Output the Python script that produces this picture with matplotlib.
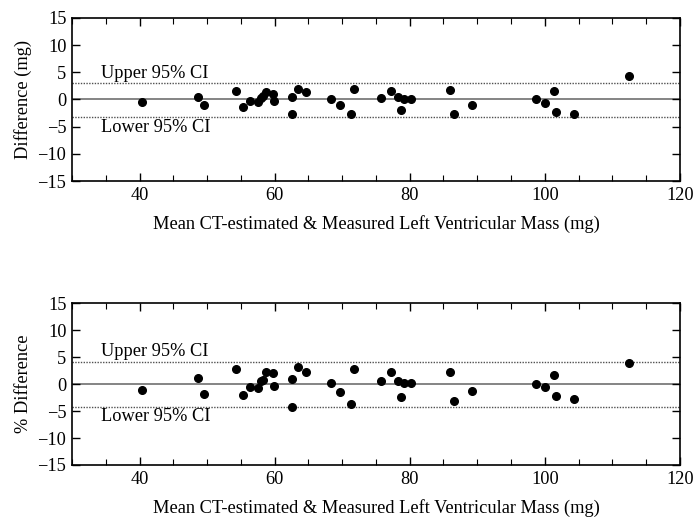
import numpy as np
import matplotlib
matplotlib.use("Agg")
import matplotlib.pyplot as plt
from matplotlib.ticker import MultipleLocator

plt.rcParams["font.family"] = ["Liberation Serif", "DejaVu Serif"]
plt.rcParams["mathtext.fontset"] = "stix"

# mean of CT-estimated and measured LV mass (mg)
mean_mass = [40.4, 48.6, 49.5, 54.3, 55.3, 56.4, 57.6, 58.0, 58.3, 58.7,
             59.8, 59.9, 62.5, 62.6, 63.4, 64.6, 68.3, 69.7, 71.3, 71.7,
             75.8, 77.2, 78.2, 78.7, 79.2, 80.2, 86.0, 86.5, 89.2, 98.7,
             100.1, 101.3, 101.7, 104.3, 112.5]

# difference (mg)
diff_mg = [-0.5, 0.5, -1.0, 1.5, -1.3, -0.3, -0.5, 0.2, 0.7, 1.3,
           1.1, -0.3, 0.5, -2.7, 1.9, 1.4, 0.1, -1.1, -2.7, 1.9,
           0.2, 1.6, 0.4, -2.0, 0.1, 0.1, 1.7, -2.7, -1.1, 0.0,
           -0.6, 1.6, -2.3, -2.7, 4.3]

# percent difference
diff_pct = [-1.0, 1.2, -1.9, 2.8, -2.0, -0.6, -0.7, 0.6, 0.8, 2.2,
            2.0, -0.4, 0.9, -4.3, 3.1, 2.2, 0.2, -1.4, -3.6, 2.8,
            0.5, 2.2, 0.6, -2.4, 0.2, 0.2, 2.2, -3.2, -1.2, 0.1,
            -0.5, 1.7, -2.2, -2.7, 4.0]

ci_mg = [3.0, -3.3]
ci_pct = [4.1, -4.2]

xlabel = "Mean CT-estimated & Measured Left Ventricular Mass (mg)"
FS = 13.2

fig = plt.figure(figsize=(6.94, 5.17), dpi=100)
ax1 = fig.add_axes([0.1037, 0.6499, 0.876, 0.3153])
ax2 = fig.add_axes([0.1037, 0.1006, 0.876, 0.3128])


def BlandAltman(ax, y, ci, ylabel):
    ax.axhline(0, color="#707070", lw=1.2, zorder=1)
    ax.axhline(ci[0], color="#505050", lw=1.0, ls=(0, (1, 1)), zorder=1)
    ax.axhline(ci[1], color="#505050", lw=1.0, ls=(0, (1, 1)), zorder=1)
    ax.plot(mean_mass, y, "o", color="black", ms=5.5, zorder=3)

    ax.text(34.3, ci[0] + 0.3, "Upper 95% CI", fontsize=FS, va="bottom", ha="left")
    ax.text(34.3, ci[1] - 0.3, "Lower 95% CI", fontsize=FS, va="top", ha="left")

    ax.set_xlim(30, 120)
    ax.set_ylim(-15, 15)
    ax.xaxis.set_major_locator(MultipleLocator(20))
    ax.xaxis.set_minor_locator(MultipleLocator(5))
    ax.yaxis.set_major_locator(MultipleLocator(5))
    ax.tick_params(which="both", direction="in", top=True, right=True, labelsize=FS)
    ax.tick_params(which="major", length=6, width=1, pad=4)
    ax.tick_params(which="minor", length=4, width=0.8)
    for s in ax.spines.values():
        s.set_linewidth(1.2)
    ax.set_xlabel(xlabel, fontsize=FS, labelpad=8)
    ax.set_ylabel(ylabel, fontsize=FS, labelpad=4)


BlandAltman(ax1, diff_mg, ci_mg, "Difference (mg)")
BlandAltman(ax2, diff_pct, ci_pct, "% Difference")

fig.savefig("out.png", dpi=100)
